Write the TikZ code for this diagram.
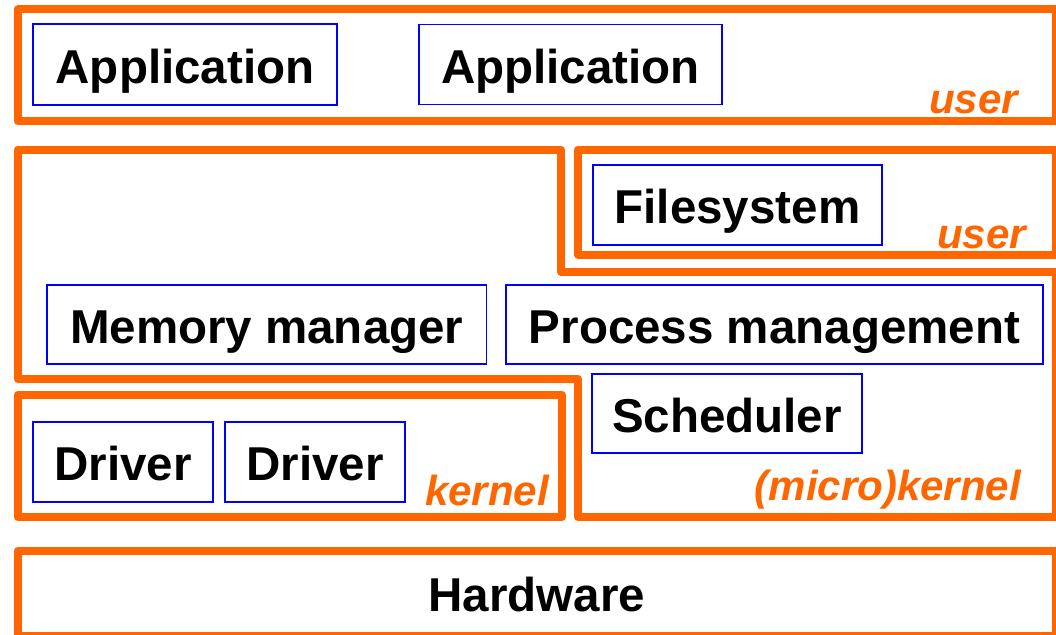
\documentclass[tikz,border=0pt]{standalone}
\usepackage{fontspec}
\setmainfont{Liberation Sans}
\definecolor{layerorange}{HTML}{FF6600}
\definecolor{modblue}{HTML}{0000FF}
\begin{document}
\begin{tikzpicture}[x=1pt,y=-1pt,
  layer/.style={draw=layerorange, line width=8pt, line join=round, inner sep=0pt},
  module/.style={draw=modblue, line width=1.8pt, inner sep=0pt,
    text height=37pt, text depth=0pt,
    font=\fontsize{47.5}{50}\selectfont\bfseries},
  tag/.style={text=layerorange, anchor=base east, inner sep=0pt,
    font=\fontsize{42}{46}\selectfont\bfseries\itshape}]
\useasboundingbox (0,0) rectangle (1056,634);

% protection domains
\node[layer, minimum width=1038.5pt, minimum height=111.5pt] (userlayer) at (536.75,65.25) {};
\node[layer, minimum width=478pt, minimum height=105pt] (fslayer) at (817,202) {};
\node[layer, minimum width=544pt, minimum height=122pt] (kernlayer) at (289.5,456) {};
\draw[layer] (17.5,149.5) -- (561,149.5) -- (561,272) -- (1056,272)
  -- (1056,517) -- (578,517) -- (578,379) -- (17.5,379) -- cycle;
\node[layer, minimum width=1038.5pt, minimum height=85pt,
  text height=36pt, text depth=0pt,
  font=\fontsize{47.5}{50}\selectfont\bfseries] (hw) at (536.75,593.5) {Hardware};

% components
\node[module, minimum width=304pt, minimum height=81pt] (app1) at (185,64.5) {Application};
\node[module, minimum width=303pt, minimum height=80pt] (app2) at (570.5,64.5) {Application};
\node[module, minimum width=289pt, minimum height=80pt] (fs) at (737.5,205) {Filesystem};
\node[module, minimum width=439.5pt, minimum height=79pt] (mem) at (266.75,324.5) {Memory manager};
\node[module, minimum width=537pt, minimum height=79pt] (proc) at (774.5,324.5) {Process management};
\node[module, minimum width=270pt, minimum height=79pt] (sched) at (727,413.5) {Scheduler};
\node[module, minimum width=180pt, minimum height=80pt] (drv1) at (123,462) {Driver};
\node[module, minimum width=180pt, minimum height=80pt] (drv2) at (315,462) {Driver};

% domain labels
\node[tag] (t1) at (1018,113) {user};
\node[tag] (t2) at (1026,248) {user};
\node[tag] (t3) at (549,505) {kernel};
\node[tag] (t4) at (1021,500) {(micro)kernel};
\end{tikzpicture}
\end{document}
